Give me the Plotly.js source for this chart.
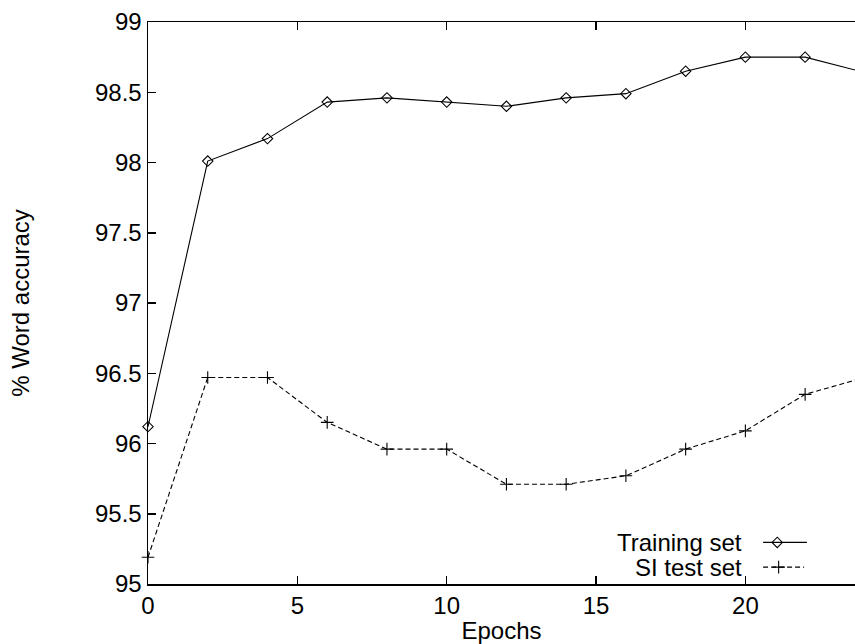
<!DOCTYPE html>
<html>
<head>
<meta charset="utf-8">
<script src="https://cdn.plot.ly/plotly-3.0.1.min.js"></script>
<style>html,body{margin:0;padding:0;background:#fff}#chart{width:855px;height:644px}</style>
</head>
<body>
<div id="chart"></div>
<script>
const epochs = [0, 2, 4, 6, 8, 10, 12, 14, 16, 18, 20, 22, 24];
const trainingSet = [96.12, 98.01, 98.17, 98.43, 98.46, 98.43, 98.40, 98.46, 98.49, 98.65, 98.75, 98.75, 98.64];
const siTestSet = [95.19, 96.47, 96.47, 96.15, 95.96, 95.96, 95.71, 95.71, 95.77, 95.96, 96.09, 96.35, 96.47];
const seriesNames = ['Training set', 'SI test set'];
const xTicks = [0, 5, 10, 15, 20];
const yTicks = [95, 95.5, 96, 96.5, 97, 97.5, 98, 98.5, 99];

const FONT = 'Liberation Sans, Arial, Helvetica, sans-serif';
const FS = 24;

const traces = [
  {x: epochs, y: trainingSet, name: seriesNames[0], type: 'scatter', mode: 'lines+markers',
   line: {color: '#000', width: 1.1},
   marker: {symbol: 'diamond-open', size: 8, color: '#000', line: {width: 1.1, color: '#000'}},
   cliponaxis: false, showlegend: false},
  {x: epochs, y: siTestSet, name: seriesNames[1], type: 'scatter', mode: 'lines+markers',
   line: {color: '#000', width: 1.1, dash: '5px,3px'},
   marker: {symbol: 'cross-thin-open', size: 9, color: '#000', line: {width: 1.1, color: '#000'}},
   cliponaxis: false, showlegend: false}
];

// manual legend (text left of the sample, as in the reference)
const legY = [0.074, 0.030];
const annotations = seriesNames.map((n, i) => ({
  text: n, xref: 'paper', yref: 'paper', x: 0.843, y: legY[i], xanchor: 'right', yanchor: 'middle',
  showarrow: false, font: {family: FONT, size: FS, color: '#000'}
}));
const shapes = [
  {type: 'line', xref: 'paper', yref: 'paper', x0: 0.870, x1: 0.932, y0: legY[0], y1: legY[0], line: {color: '#000', width: 1.1}},
  {type: 'line', xref: 'paper', yref: 'paper', x0: 0.870, x1: 0.928, y0: legY[1], y1: legY[1], line: {color: '#000', width: 1.1, dash: '5px,3px'}}
];
const legendMarkers = [
  {x: [0.890], y: [legY[0]], symbol: 'diamond-open', size: 8},
  {x: [0.892], y: [legY[1]], symbol: 'cross-thin-open', size: 9}
].map(m => ({x: m.x, y: m.y, xaxis: 'x2', yaxis: 'y2', type: 'scatter', mode: 'markers', showlegend: false, hoverinfo: 'skip',
  cliponaxis: false, marker: {symbol: m.symbol, size: m.size, color: '#000', line: {width: 1.1, color: '#000'}}}));

const layout = {
  width: 855, height: 644,
  margin: {l: 148, r: 0, t: 22, b: 60},
  paper_bgcolor: '#fff', plot_bgcolor: '#fff',
  font: {family: FONT, size: FS, color: '#000'},
  showlegend: false,
  xaxis: {range: [0, 23.67], tickvals: xTicks, ticktext: xTicks.map(String), ticks: 'inside', ticklen: 8, tickwidth: 1.5,
    tickcolor: '#000', showline: true, linecolor: '#000', linewidth: 1.5, mirror: 'ticks', showgrid: false, zeroline: false,
    title: {text: 'Epochs', font: {family: FONT, size: FS}, standoff: 9}, tickfont: {family: FONT, size: FS}},
  yaxis: {range: [95, 99], tickvals: yTicks, ticktext: yTicks.map(String), ticks: 'inside', ticklen: 8, tickwidth: 1.5,
    tickcolor: '#000', showline: true, linecolor: '#000', linewidth: 1.5, mirror: false, showgrid: false, zeroline: false,
    title: {text: '% Word accuracy', font: {family: FONT, size: FS}, standoff: 58}, tickfont: {family: FONT, size: FS}},
  xaxis2: {domain: [0, 1], range: [0, 1], overlaying: 'x', visible: false, fixedrange: true},
  yaxis2: {domain: [0, 1], range: [0, 1], overlaying: 'y', visible: false, fixedrange: true},
  annotations: annotations,
  shapes: shapes
};

Plotly.newPlot('chart', traces.concat(legendMarkers), layout, {displayModeBar: false, staticPlot: true});
</script>
</body>
</html>
